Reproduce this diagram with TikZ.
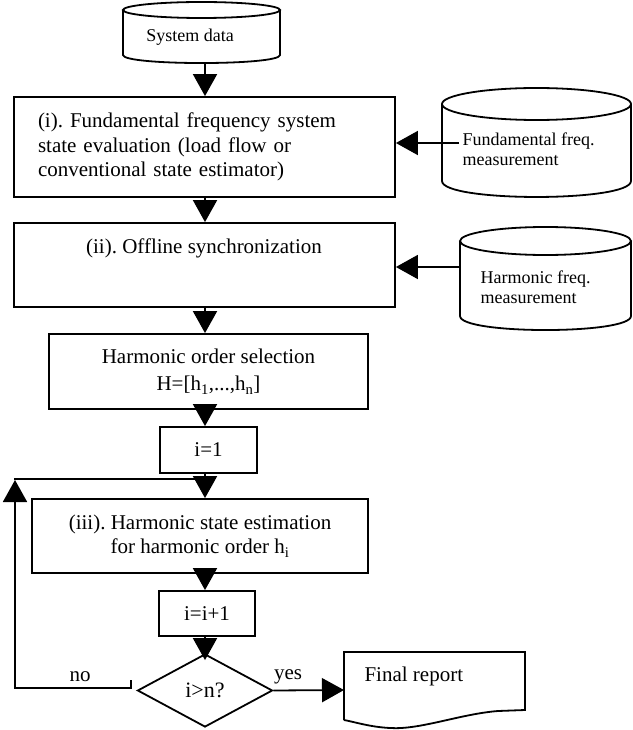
\documentclass[tikz,border=0pt]{standalone}
\usepackage{fontspec}
\setmainfont{Liberation Serif}
\usetikzlibrary{arrows.meta,shapes.geometric}
\newcommand\mainsz{\fontsize{21}{24.5}\selectfont}
\newcommand\smallsz{\fontsize{18}{20}\selectfont}
\frenchspacing
\begin{document}
\begin{tikzpicture}[x=1pt,y=-1pt,
  ln/.style={line width=1.8pt},
  box/.style={draw, line width=1.8pt, inner sep=0pt, font=\mainsz},
  arr/.style={line width=1.8pt, -{Triangle[length=22pt,width=24pt]}},
  lbl/.style={font=\mainsz},
  cyltxt/.style={font=\smallsz, align=left, anchor=west}]
\useasboundingbox (0,0) rectangle (632,730);
\coordinate (ax) at (205,0);

% System data cylinder
\draw[ln] (201.5,10) ellipse [x radius=78.5pt, y radius=8pt];
\draw[ln] (123,10) -- (123,55) .. controls (123,65.7) and (280,65.7) .. (280,55) -- (280,10);
\node[font=\smallsz] (sd) at (190,37) {System data};
\coordinate (sdb) at (205,63);

% Box (i)
\node[box, text width=333pt, align=left, inner xsep=24pt, minimum width=381pt, minimum height=100pt] (b1) at (204.5,147)
  {(i). Fundamental frequency system\\state evaluation (load flow or\\conventional state estimator)};

% Fundamental cylinder
\draw[ln] (536.5,104) ellipse [x radius=94.5pt, y radius=16pt];
\draw[ln] (442,104) -- (442,181) .. controls (442,202.3) and (631,202.3) .. (631,181) -- (631,104);
\node[cyltxt] (ft) at (459,149) {Fundamental freq.\\measurement};
\coordinate (fa) at (0,143);
\draw[arr] (ft.west |- fa) -- (b1.east |- fa);

% Box (ii)
\node[box, minimum width=381pt, minimum height=84pt] (b2) at (204.5,265) {};
\node[lbl] (t2) at (204,248) {(ii). Offline synchronization};

% Harmonic cylinder
\draw[ln] (545.5,241) ellipse [x radius=85.5pt, y radius=14pt];
\draw[ln] (460,241) -- (460,316) .. controls (460,334.7) and (631,334.7) .. (631,316) -- (631,241);
\node[cyltxt] (ht) at (477,287.5) {Harmonic freq.\\measurement};
\coordinate (hc) at (460,267);
\draw[arr] (hc) -- (b2.east |- hc);

% Harmonic order selection
\node[box, minimum width=319pt, minimum height=75pt, align=center] (b3) at (208.5,371.5)
  {Harmonic order selection\\[3pt]H=[h\textsubscript{1},...,h\textsubscript{n}]};

% i=1
\node[box, minimum width=97pt, minimum height=46pt] (b4) at (208.5,450) {i=1};

% (iii)
\node[box, minimum width=336pt, minimum height=74pt, align=center] (b5) at (200,536)
  {(iii). Harmonic state estimation\\for harmonic order h\textsubscript{i}};

% i=i+1
\node[box, minimum width=96pt, minimum height=45pt] (b6) at (207,613.5) {i=i+1};

% decision
\node[draw, line width=1.8pt, diamond, aspect=1.85, minimum width=135pt, minimum height=73pt, inner sep=0pt, font=\fontsize{22}{26}\selectfont] (d) at (205,690.5) {i>n?};

% Final report
\draw[ln] (344,720) -- (344,652) -- (525,652) -- (525,710) -- (498,711)
  .. controls (460,714) and (420,730) .. (390,728)
  .. controls (370,727) and (355,722) .. (344,720);
\node[lbl, anchor=west] (fr) at (361,676) {Final report};
\coordinate (frL) at (344,690);

% vertical flow arrows
\draw[arr] (sdb) -- (b1.north -| ax);
\draw[arr] (b1.south -| ax) -- (b2.north -| ax);
\draw[arr] (b2.south -| ax) -- (b3.north -| ax);
\draw[arr] (b3.south -| ax) -- (b4.north -| ax);
\draw[arr] (b4.south -| ax) -- (b5.north -| ax);
\draw[arr] (b5.south -| ax) -- (b6.north -| ax);
\draw[arr, shorten >=-7pt] (b6.south -| ax) -- (d.north);

% yes branch
\draw[arr] (d.east) -- (frL);
\node[lbl] (yes) at (288,677) {yes};

% no branch / loop
\coordinate (nos) at (131,680);
\coordinate (nob) at (15,688);
\coordinate (lt) at (15,480);
\coordinate (loopL) at (14,479);
\coordinate (loopR) at (205,479);
\draw[arr] (nos) |- (nob) -- (lt);
\draw[ln] (loopL) -- (loopR);
\node[lbl] (no) at (80,677) {no};
\end{tikzpicture}
\end{document}
